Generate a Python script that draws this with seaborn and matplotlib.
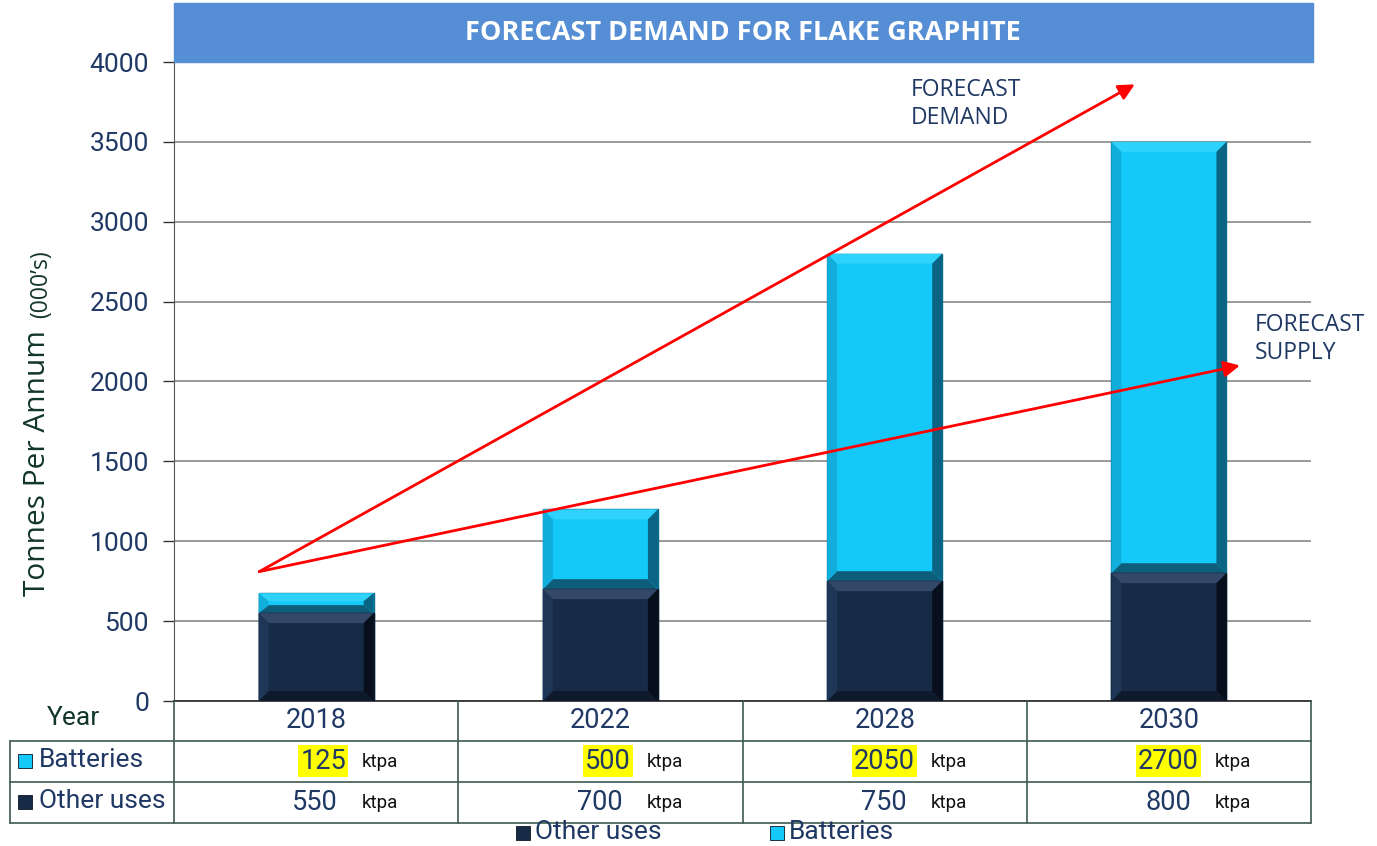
import matplotlib
matplotlib.use("Agg")
import matplotlib.pyplot as plt
from matplotlib.patches import Rectangle, Polygon
from matplotlib.lines import Line2D
import seaborn as sns
import pandas as pd

# data
years = ["2018", "2022", "2028", "2030"]
batteries = [125, 500, 2050, 2700]
other_uses = [550, 700, 750, 800]
demand_arrow = [(-0.2, 810), (2.88, 3860)]
supply_arrow = [(-0.2, 810), (3.25, 2100)]

navy = "#172B47"
cyan = "#14C8FA"
txt = "#1F3864"
green = "#12372A"
line_c = "#3E5A4F"

df = pd.DataFrame({"Year": years, "Batteries": batteries, "Other uses": other_uses})
df["Total"] = df["Batteries"] + df["Other uses"]

sns.set_style("white")
plt.rcParams["font.family"] = ["Roboto", "DejaVu Sans"]

W, H = 1377, 846
fig = plt.figure(figsize=(W / 100, H / 100), dpi=100)

def fx(x):
    return x / W

def fy(y):
    return 1 - y / H

ax = fig.add_axes([fx(174), fy(701), fx(1311) - fx(174), fy(62) - fy(701)])

# stacked bars: total first, then other uses on top of it
sns.barplot(data=df, x="Year", y="Total", color=cyan, width=0.405, ax=ax,
            saturation=1, edgecolor="#0A6C8C", linewidth=1.0, zorder=3)
n_cyan = len(ax.patches)
sns.barplot(data=df, x="Year", y="Other uses", color=navy, width=0.405, ax=ax,
            saturation=1, edgecolor="#0B1526", linewidth=1.0, zorder=4)

ax.set_ylim(0, 4000)
ax.set_xlim(-0.5, 3.5)

# bevel look on each visible segment
bx = 10 / 284.0
by = 10 / (639 / 4000.0)
def bevel(x0, x1, y0, y1, top, left, right, bottom, z):
    b_y = min(by, (y1 - y0) / 2.5)
    ax.add_patch(Polygon([(x0, y1), (x1, y1), (x1 - bx, y1 - b_y), (x0 + bx, y1 - b_y)],
                         fc=top, ec="none", zorder=z))
    ax.add_patch(Polygon([(x0, y0), (x1, y0), (x1 - bx, y0 + b_y), (x0 + bx, y0 + b_y)],
                         fc=bottom, ec="none", zorder=z))
    ax.add_patch(Polygon([(x0, y0), (x0 + bx, y0 + b_y), (x0 + bx, y1 - b_y), (x0, y1)],
                         fc=left, ec="none", zorder=z))
    ax.add_patch(Polygon([(x1, y0), (x1 - bx, y0 + b_y), (x1 - bx, y1 - b_y), (x1, y1)],
                         fc=right, ec="none", zorder=z))

cyan_bars = ax.patches[:n_cyan]
navy_bars = ax.patches[n_cyan:n_cyan + len(years)]
for cb, nb in zip(cyan_bars, navy_bars):
    x0 = cb.get_x()
    x1 = x0 + cb.get_width()
    bevel(x0, x1, nb.get_height(), cb.get_height(),
          "#2FD2FB", "#11AEDC", "#0A6585", "#0E5E7A", 3.5)
    bevel(x0, x1, 0, nb.get_height(),
          "#34496A", "#1F3656", "#070F1C", "#0F1B2D", 4.5)

ax.set_yticks(range(0, 4001, 500))
ax.set_yticklabels([str(v) for v in range(0, 4001, 500)], fontsize=19, color=txt)
ax.tick_params(axis="y", length=8, width=1, color="#333333", pad=10, left=True)
ax.set_xticks([])
ax.set_xlabel("")
ax.set_ylabel("")
ax.yaxis.grid(True, color="#7F7F7F", linewidth=1.1, zorder=0)
ax.set_axisbelow(True)
for s in ["top", "right"]:
    ax.spines[s].set_visible(False)
ax.spines["left"].set_color("#555555")
ax.spines["bottom"].set_color("#333333")
ax.spines["bottom"].set_linewidth(1.3)

# forecast arrows
for (x0, y0), (x1, y1) in [demand_arrow, supply_arrow]:
    ax.annotate("", xy=(x1, y1), xytext=(x0, y0),
                arrowprops=dict(arrowstyle="-|>", color="#FF0000", lw=2,
                                mutation_scale=24, shrinkA=0, shrinkB=0),
                zorder=6)
fig.text(fx(911), fy(78), "FORECAST\nDEMAND", fontsize=16.5, color=txt,
         family="Open Sans", va="top", ha="left", linespacing=1.2)
fig.text(fx(1255), fy(313), "FORECAST\nSUPPLY", fontsize=16.5, color=txt,
         family="Open Sans", va="top", ha="left", linespacing=1.2)

# title band
fig.patches.append(Rectangle((fx(174), fy(62)), fx(1313) - fx(174), fy(3) - fy(62),
                             transform=fig.transFigure, color="#558ED5", zorder=0))
fig.text(fx(743), fy(33), "FORECAST DEMAND FOR FLAKE GRAPHITE", fontsize=19.5,
         fontweight="bold", color="white", family="Open Sans", ha="center", va="center")

# y label
fig.text(fx(38), fy(596), "Tonnes Per Annum", rotation=90, fontsize=21.5, color=green,
         ha="center", va="bottom", family="Open Sans")
fig.text(fx(41), fy(318), "(000\u2019s)", rotation=90, fontsize=16.5, color=green,
         ha="center", va="bottom", family="Open Sans")

# data table under the axis
cols = [174, 458, 743, 1027, 1311]
def hline(y, x0, x1):
    fig.add_artist(Line2D([fx(x0), fx(x1)], [fy(y), fy(y)], color=line_c, lw=1.2))
def vline(x, y0, y1):
    fig.add_artist(Line2D([fx(x), fx(x)], [fy(y0), fy(y1)], color=line_c, lw=1.2))
hline(741, 10, 1311)
hline(782, 10, 1311)
hline(823, 10, 1311)
vline(10, 741, 823)
for c in cols:
    vline(c, 701, 823)

fig.text(fx(47), fy(718), "Year", fontsize=19, color=green, va="center", ha="left")
for i, yr in enumerate(years):
    cx = (cols[i] + cols[i + 1]) / 2
    fig.text(fx(cx), fy(720), yr, fontsize=19.5, color=txt, ha="center", va="center")
    fig.text(fx(cx + 30), fy(761), str(batteries[i]), fontsize=19.5, color=txt,
             ha="right", va="center",
             bbox=dict(boxstyle="square,pad=0.08", fc="#FFFF00", ec="none"))
    fig.text(fx(cx + 46), fy(762), "ktpa", fontsize=13.5, color="#111111",
             ha="left", va="center")
    fig.text(fx(cx + 22), fy(802), str(other_uses[i]), fontsize=19.5, color=txt,
             ha="right", va="center")
    fig.text(fx(cx + 46), fy(803), "ktpa", fontsize=13.5, color="#111111",
             ha="left", va="center")

def marker(x, y, color):
    fig.patches.append(Rectangle((fx(x), fy(y + 7)), fx(14), fy(0) - fy(14),
                                 transform=fig.transFigure, fc=color, ec="#0B1526", lw=0.6))

marker(18, 761, cyan)
fig.text(fx(39), fy(760), "Batteries", fontsize=19, color=txt, va="center", ha="left")
marker(18, 802, navy)
fig.text(fx(39), fy(801), "Other uses", fontsize=19, color=txt, va="center", ha="left")

# legend
marker(516, 833, navy)
fig.text(fx(535), fy(832), "Other uses", fontsize=19, color=txt, va="center", ha="left")
marker(770, 833, cyan)
fig.text(fx(789), fy(832), "Batteries", fontsize=19, color=txt, va="center", ha="left")

fig.savefig("out.png", dpi=100)
